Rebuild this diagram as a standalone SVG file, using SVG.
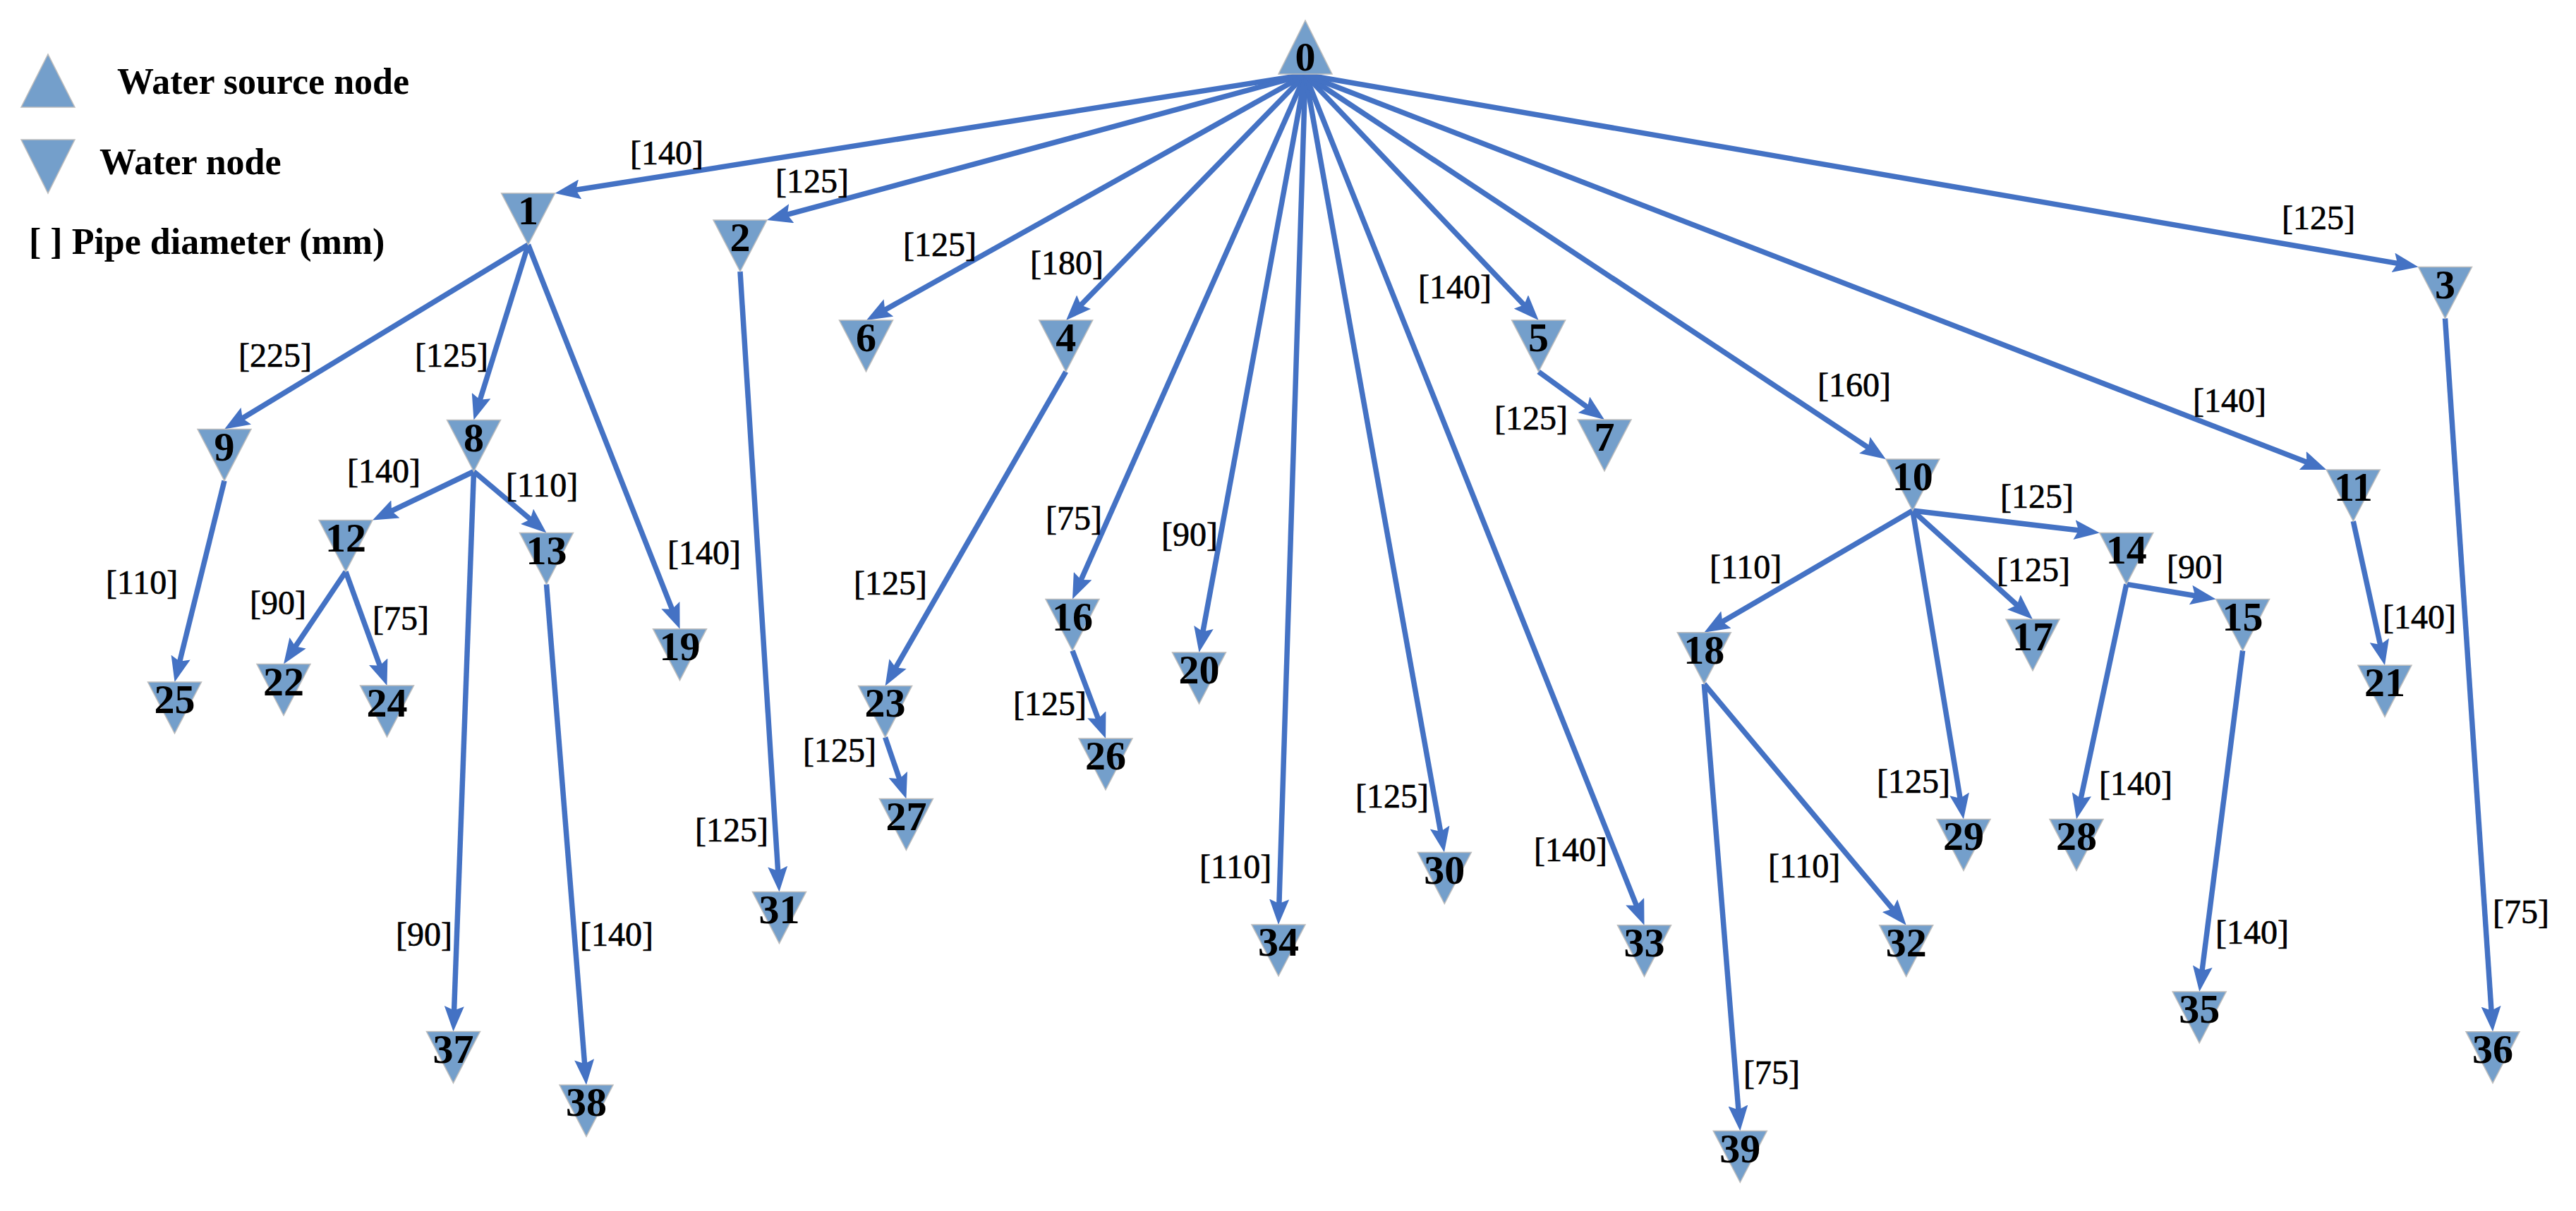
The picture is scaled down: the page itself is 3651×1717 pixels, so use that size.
<svg xmlns="http://www.w3.org/2000/svg" width="3651" height="1717" viewBox="0 0 3651 1717">
<style>
.bg{fill:#ffffff}
.tri{fill:#749FCB;stroke:#BDBDBD;stroke-width:1.5}
.nl{font-family:"Liberation Serif","Times New Roman",serif;font-weight:bold;font-size:58px;fill:#000;text-anchor:middle}
.el{font-family:"Liberation Serif","Times New Roman",serif;font-size:48px;fill:#000;stroke:#000;stroke-width:0.7}
.lg{font-family:"Liberation Serif","Times New Roman",serif;font-weight:bold;font-size:52px;fill:#000}
.e{stroke:#4472C4;stroke-width:7.5;fill:none;marker-end:url(#ah)}
</style>
<defs>
<marker id="ah" markerUnits="userSpaceOnUse" markerWidth="36" markerHeight="28" viewBox="0 0 36 28" refX="22" refY="14" orient="auto">
<path d="M0,0 L36,14 L0,28 L6,14 Z" fill="#4472C4"/>
</marker>
<path id="dn" d="M-38,0 L38,0 L0,73 Z"/>
</defs>
<rect class="bg" x="0" y="0" width="3651" height="1717"/>

<g id="legend">
<path class="tri" d="M30,152 L106,152 L68,77 Z"/>
<text class="lg" x="166" y="133">Water source node</text>
<path class="tri" d="M30,198 L106,198 L68,274 Z"/>
<text class="lg" x="141" y="247">Water node</text>
<text class="lg" x="41" y="360">[ ] Pipe diameter (mm)</text>
</g>

<g id="connectors">
<path class="e" d="M1850,106 L800.4,271.8"/>
<path class="e" d="M1850,106 L1100.5,308.4"/>
<path class="e" d="M1850,106 L1240.2,447.2"/>
<path class="e" d="M1850,106 L1520.8,444.0"/>
<path class="e" d="M1850,106 L1525.7,836.7"/>
<path class="e" d="M1850,106 L1702.0,911.2"/>
<path class="e" d="M1850,106 L1812.4,1297.0"/>
<path class="e" d="M1850,106 L2044.5,1194.7"/>
<path class="e" d="M1850,106 L2325.3,1298.7"/>
<path class="e" d="M1850,106 L2171.0,443.9"/>
<path class="e" d="M1850,106 L2661.1,643.3"/>
<path class="e" d="M1850,106 L3284.2,661.0"/>
<path class="e" d="M1850,106 L3413.7,376.1"/>
<path class="e" d="M748.6,347 L330.0,601.3"/>
<path class="e" d="M748.6,347 L675.6,582.1"/>
<path class="e" d="M748.6,347 L958.4,878.7"/>
<path class="e" d="M1049,385 L1103.6,1250.6"/>
<path class="e" d="M1510.7,527 L1261.6,960.3"/>
<path class="e" d="M1520,922.5 L1562.1,1033.9"/>
<path class="e" d="M2180.6,527 L2262.7,586.8"/>
<path class="e" d="M671.5,668.5 L540.6,731.4"/>
<path class="e" d="M671.5,668.5 L763.8,746.5"/>
<path class="e" d="M671.5,668.5 L643.0,1448.6"/>
<path class="e" d="M318,681.6 L250.9,953.4"/>
<path class="e" d="M490,810.5 L409.8,929.9"/>
<path class="e" d="M490,810.5 L543.7,958.8"/>
<path class="e" d="M774.5,828.5 L829.9,1524.3"/>
<path class="e" d="M1254.6,1045.4 L1279.9,1119.3"/>
<path class="e" d="M2710.8,724 L2427.4,889.6"/>
<path class="e" d="M2710.8,724 L2961.9,753.8"/>
<path class="e" d="M2710.8,724 L2870.6,868.6"/>
<path class="e" d="M2710.8,724 L2780.7,1147.6"/>
<path class="e" d="M3013.8,828.4 L3126.8,847.2"/>
<path class="e" d="M3013.8,828.4 L2945.9,1147.7"/>
<path class="e" d="M3178.6,922.5 L3119.0,1392.1"/>
<path class="e" d="M3335.3,739 L3377.0,929.6"/>
<path class="e" d="M3465.5,451.5 L3532.1,1448.7"/>
<path class="e" d="M2415.3,969.7 L2692.7,1301.0"/>
<path class="e" d="M2415.3,969.7 L2465.2,1589.5"/>

<text class="el" x="893" y="233">[140]</text>
<text class="el" x="1099" y="273">[125]</text>
<text class="el" x="1280" y="363">[125]</text>
<text class="el" x="1460" y="389">[180]</text>
<text class="el" x="1482" y="751">[75]</text>
<text class="el" x="1646" y="774">[90]</text>
<text class="el" x="1700" y="1245">[110]</text>
<text class="el" x="1921" y="1145">[125]</text>
<text class="el" x="2174" y="1221">[140]</text>
<text class="el" x="2010" y="423">[140]</text>
<text class="el" x="2576" y="562">[160]</text>
<text class="el" x="3108" y="584">[140]</text>
<text class="el" x="3234" y="325">[125]</text>
<text class="el" x="338" y="520">[225]</text>
<text class="el" x="588" y="520">[125]</text>
<text class="el" x="946" y="800">[140]</text>
<text class="el" x="985" y="1193">[125]</text>
<text class="el" x="1210" y="843">[125]</text>
<text class="el" x="1436" y="1014">[125]</text>
<text class="el" x="2118" y="609">[125]</text>
<text class="el" x="492" y="684">[140]</text>
<text class="el" x="717" y="704">[110]</text>
<text class="el" x="561" y="1341">[90]</text>
<text class="el" x="150" y="842">[110]</text>
<text class="el" x="354" y="871">[90]</text>
<text class="el" x="528" y="893">[75]</text>
<text class="el" x="822" y="1341">[140]</text>
<text class="el" x="1138" y="1080">[125]</text>
<text class="el" x="2423" y="820">[110]</text>
<text class="el" x="2835" y="720">[125]</text>
<text class="el" x="2830" y="824">[125]</text>
<text class="el" x="2660" y="1124">[125]</text>
<text class="el" x="3071" y="820">[90]</text>
<text class="el" x="2975" y="1127">[140]</text>
<text class="el" x="3140" y="1338">[140]</text>
<text class="el" x="3377" y="891">[140]</text>
<text class="el" x="3533" y="1309">[75]</text>
<text class="el" x="2506" y="1244">[110]</text>
<text class="el" x="2471" y="1537">[75]</text>
</g>

<g id="n0"><path class="tri" d="M1812,105 L1888,105 L1850,29 Z"/><text class="nl" x="1850" y="100">0</text></g>
<g id="n1" transform="translate(748.6,274)"><use href="#dn" class="tri"/><text class="nl" x="0" y="44">1</text></g>
<g id="n2" transform="translate(1049,312)"><use href="#dn" class="tri"/><text class="nl" x="0" y="44">2</text></g>
<g id="n3" transform="translate(3465.5,378.5)"><use href="#dn" class="tri"/><text class="nl" x="0" y="44">3</text></g>
<g id="n4" transform="translate(1510.7,454)"><use href="#dn" class="tri"/><text class="nl" x="0" y="44">4</text></g>
<g id="n5" transform="translate(2180.6,454)"><use href="#dn" class="tri"/><text class="nl" x="0" y="44">5</text></g>
<g id="n6" transform="translate(1227.5,454)"><use href="#dn" class="tri"/><text class="nl" x="0" y="44">6</text></g>
<g id="n7" transform="translate(2274,595)"><use href="#dn" class="tri"/><text class="nl" x="0" y="44">7</text></g>
<g id="n8" transform="translate(671.5,595.5)"><use href="#dn" class="tri"/><text class="nl" x="0" y="44">8</text></g>
<g id="n9" transform="translate(318,608.6)"><use href="#dn" class="tri"/><text class="nl" x="0" y="44">9</text></g>
<g id="n10" transform="translate(2710.8,651)"><use href="#dn" class="tri"/><text class="nl" x="0" y="44">10</text></g>
<g id="n11" transform="translate(3335.3,666)"><use href="#dn" class="tri"/><text class="nl" x="0" y="44">11</text></g>
<g id="n12" transform="translate(490,737.5)"><use href="#dn" class="tri"/><text class="nl" x="0" y="44">12</text></g>
<g id="n13" transform="translate(774.5,755.5)"><use href="#dn" class="tri"/><text class="nl" x="0" y="44">13</text></g>
<g id="n14" transform="translate(3013.8,755.4)"><use href="#dn" class="tri"/><text class="nl" x="0" y="44">14</text></g>
<g id="n15" transform="translate(3178.6,849.5)"><use href="#dn" class="tri"/><text class="nl" x="0" y="44">15</text></g>
<g id="n16" transform="translate(1520,849.5)"><use href="#dn" class="tri"/><text class="nl" x="0" y="44">16</text></g>
<g id="n17" transform="translate(2881,878)"><use href="#dn" class="tri"/><text class="nl" x="0" y="44">17</text></g>
<g id="n18" transform="translate(2415.3,896.7)"><use href="#dn" class="tri"/><text class="nl" x="0" y="44">18</text></g>
<g id="n19" transform="translate(963.5,891.7)"><use href="#dn" class="tri"/><text class="nl" x="0" y="44">19</text></g>
<g id="n20" transform="translate(1699.5,925)"><use href="#dn" class="tri"/><text class="nl" x="0" y="44">20</text></g>
<g id="n21" transform="translate(3380,943.3)"><use href="#dn" class="tri"/><text class="nl" x="0" y="44">21</text></g>
<g id="n22" transform="translate(402,941.5)"><use href="#dn" class="tri"/><text class="nl" x="0" y="44">22</text></g>
<g id="n23" transform="translate(1254.6,972.4)"><use href="#dn" class="tri"/><text class="nl" x="0" y="44">23</text></g>
<g id="n24" transform="translate(548.5,972)"><use href="#dn" class="tri"/><text class="nl" x="0" y="44">24</text></g>
<g id="n25" transform="translate(247.5,967)"><use href="#dn" class="tri"/><text class="nl" x="0" y="44">25</text></g>
<g id="n26" transform="translate(1567,1047)"><use href="#dn" class="tri"/><text class="nl" x="0" y="44">26</text></g>
<g id="n27" transform="translate(1284.4,1132.5)"><use href="#dn" class="tri"/><text class="nl" x="0" y="44">27</text></g>
<g id="n28" transform="translate(2943,1161.4)"><use href="#dn" class="tri"/><text class="nl" x="0" y="44">28</text></g>
<g id="n29" transform="translate(2783,1161.4)"><use href="#dn" class="tri"/><text class="nl" x="0" y="44">29</text></g>
<g id="n30" transform="translate(2047.3,1208.5)"><use href="#dn" class="tri"/><text class="nl" x="0" y="44">30</text></g>
<g id="n31" transform="translate(1104.5,1264.6)"><use href="#dn" class="tri"/><text class="nl" x="0" y="44">31</text></g>
<g id="n32" transform="translate(2701.7,1311.7)"><use href="#dn" class="tri"/><text class="nl" x="0" y="44">32</text></g>
<g id="n33" transform="translate(2330.5,1311.7)"><use href="#dn" class="tri"/><text class="nl" x="0" y="44">33</text></g>
<g id="n34" transform="translate(1812,1311)"><use href="#dn" class="tri"/><text class="nl" x="0" y="44">34</text></g>
<g id="n35" transform="translate(3117.2,1406)"><use href="#dn" class="tri"/><text class="nl" x="0" y="44">35</text></g>
<g id="n36" transform="translate(3533,1462.7)"><use href="#dn" class="tri"/><text class="nl" x="0" y="44">36</text></g>
<g id="n37" transform="translate(642.5,1462.6)"><use href="#dn" class="tri"/><text class="nl" x="0" y="44">37</text></g>
<g id="n38" transform="translate(831,1538.3)"><use href="#dn" class="tri"/><text class="nl" x="0" y="44">38</text></g>
<g id="n39" transform="translate(2466.3,1603.5)"><use href="#dn" class="tri"/><text class="nl" x="0" y="44">39</text></g>
</svg>
